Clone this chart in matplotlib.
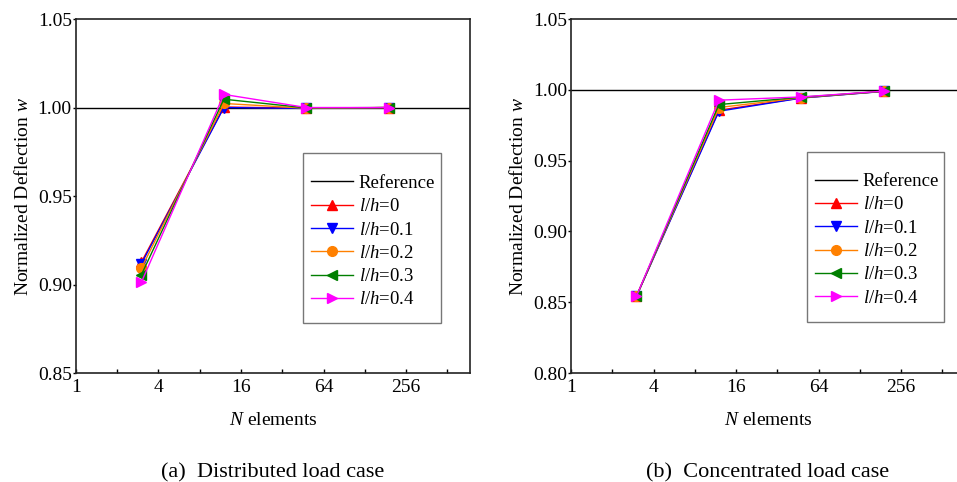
import matplotlib.pyplot as plt
from matplotlib.patches import Rectangle
from matplotlib.ticker import FixedLocator, NullFormatter

plt.rcParams["font.family"] = ["Liberation Serif", "DejaVu Serif"]
plt.rcParams["mathtext.fontset"] = "custom"
plt.rcParams["mathtext.it"] = "Liberation Serif:italic"
plt.rcParams["mathtext.rm"] = "Liberation Serif"

# Data
n_elements = [3, 12, 48, 192]
labels = ["$l/h$=0", "$l/h$=0.1", "$l/h$=0.2", "$l/h$=0.3", "$l/h$=0.4"]
colors = ["#ff0000", "#0000ff", "#ff8000", "#007f00", "#ff00ff"]
markers = ["^", "v", "o", "<", ">"]

# (a) distributed load
dist_vals = [
    [0.9126, 1.0003, 0.9996, 1.0000],
    [0.9117, 1.0000, 0.9995, 1.0000],
    [0.9092, 1.0023, 0.9996, 1.0000],
    [0.9055, 1.0047, 0.9998, 1.0000],
    [0.9013, 1.0074, 1.0000, 1.0000],
]
# (b) concentrated load
conc_vals = [
    [0.8542, 0.9856, 0.9943, 0.9990],
    [0.8541, 0.9849, 0.9942, 0.9989],
    [0.8542, 0.9875, 0.9945, 0.9990],
    [0.8541, 0.9896, 0.9948, 0.9990],
    [0.8542, 0.9927, 0.9950, 0.9991],
]
x_ticks = [1, 4, 16, 64, 256]
x_minor = [2, 8, 32, 128, 512]

fig = plt.figure(figsize=(9.57, 4.82), dpi=100)
ax1 = fig.add_axes([0.0794, 0.2261, 0.4117, 0.7344])
ax2 = fig.add_axes([0.5967, 0.2261, 0.4117, 0.7344])

# legend: (entries anchor x, y), (frame x0, y0, x1, y1) in axes fraction
panels = [
    (ax1, dist_vals, (0.85, 1.05), [0.85, 0.90, 0.95, 1.00, 1.05],
     "(a)  Distributed load case", (0.596, 0.560), (0.576, 0.141, 0.926, 0.621)),
    (ax2, conc_vals, (0.80, 1.05), [0.80, 0.85, 0.90, 0.95, 1.00, 1.05],
     "(b)  Concentrated load case", (0.619, 0.565), (0.599, 0.144, 0.947, 0.625)),
]

for ax, vals, ylim, yticks, caption, anchor, box in panels:
    ax.axhline(1.0, color="black", lw=1.0, label="Reference")
    for v, c, m, lab in zip(vals, colors, markers, labels):
        ax.plot(n_elements, v, color=c, marker=m, ms=7, lw=1.0, label=lab)
    ax.set_xscale("log", base=2)
    ax.set_xlim(1, 750)
    ax.set_ylim(*ylim)
    ax.xaxis.set_major_locator(FixedLocator(x_ticks))
    ax.xaxis.set_minor_locator(FixedLocator(x_minor))
    ax.xaxis.set_minor_formatter(NullFormatter())
    ax.set_xticklabels([str(t) for t in x_ticks])
    ax.set_yticks(yticks)
    ax.set_yticklabels(["%.2f" % t for t in yticks])
    ax.tick_params(axis="x", which="both", direction="in", length=3, width=1,
                   labelsize=14, pad=4)
    ax.tick_params(axis="y", direction="out", length=2, width=1, labelsize=14, pad=1)
    for s in ax.spines.values():
        s.set_linewidth(1.2)
        s.set_color("#222222")
    ax.set_xlabel("$N$ elements", fontsize=14, labelpad=12)
    ax.set_ylabel("Normalized Deflection $w$", fontsize=14, labelpad=4)

    # frame drawn separately to get the roomy vertical padding
    ax.add_patch(Rectangle((box[0], box[1]), box[2] - box[0], box[3] - box[1],
                           transform=ax.transAxes, fill=True, facecolor="white",
                           edgecolor="#777777", lw=1.0, zorder=4))
    lg = ax.legend(loc="upper left", bbox_to_anchor=anchor,
                   fontsize=13.5, frameon=False, handlelength=2.24,
                   handletextpad=0.32, labelspacing=0.33, borderpad=0,
                   borderaxespad=0)
    lg.set_zorder(5)
    ax.text(0.5, -0.255, caption, transform=ax.transAxes, ha="center",
            va="top", fontsize=16)

fig.savefig("out.png", dpi=100)
